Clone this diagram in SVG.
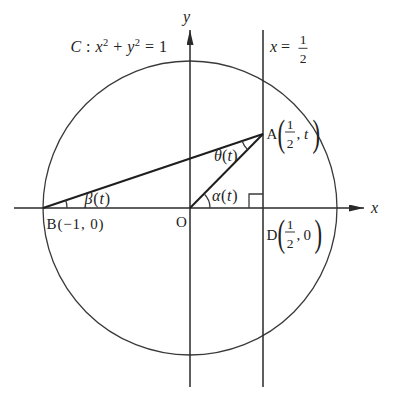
<svg xmlns="http://www.w3.org/2000/svg" width="402" height="400" viewBox="0 0 402 400">
<style>
text{font-family:"Liberation Serif","Times New Roman",serif;fill:#222}
.i{font-style:italic}
.lbl{font-size:15px}
.big{font-size:16px}
.fr{font-size:13.5px;text-anchor:middle}
.par{font-size:38px}
.thin{fill:none;stroke:#3a3a3a;stroke-width:1.3}
.axis{fill:none;stroke:#2a2a2a;stroke-width:1.5}
.seg{fill:none;stroke:#1e1e1e;stroke-width:2}
.bar{stroke:#222;stroke-width:0.9}
</style>
<defs>
<marker id="arr" markerUnits="userSpaceOnUse" markerWidth="16" markerHeight="8" refX="15" refY="3.5" orient="auto">
<path d="M0,0 L15,3.5 L0,7 z" fill="#2a2a2a"/>
</marker>
</defs>
<rect width="402" height="400" fill="#fff"/>
<g id="circle"><circle cx="190" cy="208" r="147" class="thin"/></g>
<g id="connectors">
<line id="x-axis" x1="14" y1="208" x2="364" y2="208" class="axis" marker-end="url(#arr)"/>
<line id="y-axis" x1="190" y1="387" x2="190" y2="30" class="axis" marker-end="url(#arr)"/>
<line id="line-x-half" x1="263" y1="30" x2="263" y2="387" class="axis"/>
<line id="BA" x1="43" y1="208" x2="263" y2="134" class="seg"/>
<line id="OA" x1="190" y1="208" x2="263" y2="134" class="seg"/>
<path id="right-angle" d="M249,208 V194 H263" class="thin"/>
<path id="arc-beta" d="M67,208 A24,24 0 0 0 65.75,200.33" class="thin"/>
<path id="arc-alpha" d="M210,208 A20,20 0 0 0 204.05,193.76" class="thin"/>
<path id="arc-theta" d="M242.14,141.03 A22,22 0 0 0 247.55,149.66" class="thin"/>
</g>
<g id="label-y"><text x="186.5" y="22" class="i big" text-anchor="middle">y</text></g>
<g id="label-x"><text x="371" y="213" class="i big">x</text></g>
<g id="label-C"><text x="70.5" y="52" style="font-size:16px" textLength="96.5" lengthAdjust="spacing"><tspan class="i">C</tspan> : <tspan class="i">x</tspan><tspan dy="-6" style="font-size:10.5px">2</tspan><tspan dy="6"> + </tspan><tspan class="i">y</tspan><tspan dy="-6" style="font-size:10.5px">2</tspan><tspan dy="6"> = 1</tspan></text></g>
<g id="label-line">
<text x="270" y="52" class="big"><tspan class="i">x</tspan> =</text>
<text x="303" y="43.5" class="fr">1</text>
<line x1="298.5" y1="48.3" x2="307.5" y2="48.3" class="bar"/>
<text x="303" y="62.5" class="fr">2</text>
</g>
<g id="node-A">
<text x="266.5" y="138.5" class="lbl">A</text>
<text transform="translate(277.5,146.2) scale(0.6,1)" class="par">(</text>
<text x="290" y="128.8" class="fr">1</text>
<line x1="285" y1="132" x2="295" y2="132" class="bar"/>
<text x="290" y="147.5" class="fr">2</text>
<text x="296.5" y="139" class="lbl">,</text>
<text x="304" y="138.5" class="i lbl">t</text>
<text transform="translate(312.5,146.2) scale(0.6,1)" class="par">)</text>
</g>
<g id="node-D">
<text x="266.5" y="239.5" class="lbl">D</text>
<text transform="translate(277.5,245.7) scale(0.6,1)" class="par">(</text>
<text x="290" y="228.5" class="fr">1</text>
<line x1="285" y1="232" x2="295" y2="232" class="bar"/>
<text x="290" y="247.5" class="fr">2</text>
<text x="296.5" y="240" class="lbl">,</text>
<text x="303.5" y="239.5" class="lbl">0</text>
<text transform="translate(314.5,245.7) scale(0.6,1)" class="par">)</text>
</g>
<g id="node-B"><text x="46.5" y="229" class="lbl" textLength="57" lengthAdjust="spacing">B(−1, 0)</text></g>
<g id="node-O"><text x="176" y="227" class="lbl">O</text></g>
<g id="angle-beta"><text x="84.5" y="203.5" class="big" textLength="25.5" lengthAdjust="spacing"><tspan class="i">β</tspan>(<tspan class="i">t</tspan>)</text></g>
<g id="angle-alpha"><text x="212" y="201" class="big" textLength="25.5" lengthAdjust="spacing"><tspan class="i">α</tspan>(<tspan class="i">t</tspan>)</text></g>
<g id="angle-theta"><text x="214" y="160.5" class="big" textLength="23.5" lengthAdjust="spacing"><tspan class="i">θ</tspan>(<tspan class="i">t</tspan>)</text></g>
</svg>
